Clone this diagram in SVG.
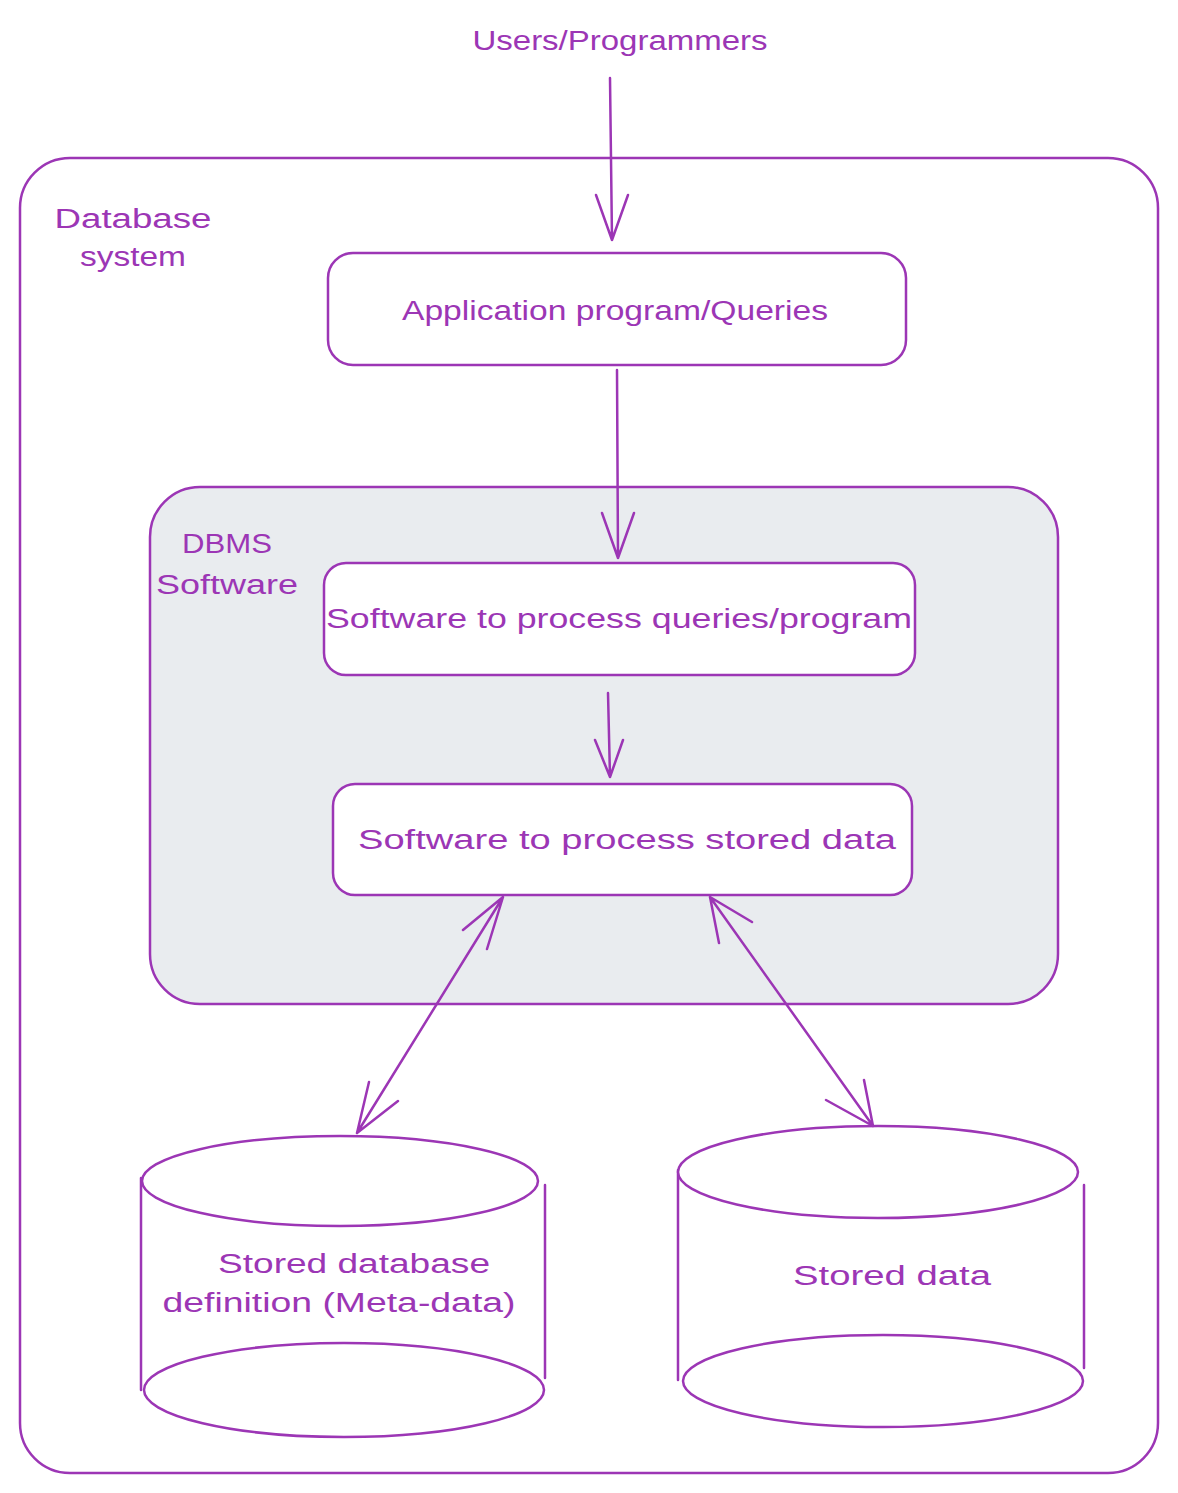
<svg xmlns="http://www.w3.org/2000/svg" width="1178" height="1493" viewBox="0 0 1178 1493">
<defs>
<style>
.s{fill:none;stroke:#9c36b5;stroke-width:2.5;stroke-linecap:round;stroke-linejoin:round}
.w{fill:#ffffff;stroke:#9c36b5;stroke-width:2.5}
.f{fill:#ffffff;stroke:none}
.g{fill:#e9ecef;stroke:#9c36b5;stroke-width:2.5}
.t{fill:#9c36b5;font-family:"Liberation Sans",Arial,sans-serif;font-size:27px;text-anchor:middle}
</style>
</defs>
<rect width="1178" height="1493" fill="#ffffff"/>
<g id="users">
<text class="t" x="620" y="50" textLength="295" lengthAdjust="spacingAndGlyphs">Users/Programmers</text>
</g>
<g id="database-system">
<rect class="w" x="20" y="158" width="1138" height="1315" rx="50"/>
<text class="t" x="133" y="228" textLength="157" lengthAdjust="spacingAndGlyphs">Database</text>
<text class="t" x="133" y="266" textLength="106" lengthAdjust="spacingAndGlyphs">system</text>
</g>
<g id="application">
<rect class="w" x="328" y="253" width="578" height="112" rx="25"/>
<text class="t" x="615" y="320" textLength="426" lengthAdjust="spacingAndGlyphs">Application program/Queries</text>
</g>
<g id="dbms">
<rect class="g" x="150" y="487" width="908" height="517" rx="50"/>
<text class="t" x="227" y="553" textLength="90" lengthAdjust="spacingAndGlyphs">DBMS</text>
<text class="t" x="227" y="594" textLength="142" lengthAdjust="spacingAndGlyphs">Software</text>
</g>
<g id="process-queries">
<rect class="w" x="324" y="563" width="591" height="112" rx="22"/>
<text class="t" x="619" y="628" textLength="586" lengthAdjust="spacingAndGlyphs">Software to process queries/program</text>
</g>
<g id="process-stored">
<rect class="w" x="333" y="784" width="579" height="111" rx="22"/>
<text class="t" x="627" y="849" textLength="538" lengthAdjust="spacingAndGlyphs">Software to process stored data</text>
</g>
<g id="meta-data">
<path class="f" d="M142,1181 L142,1390 A201,47 0 0 0 544,1390 L544,1181 Z"/>
<ellipse class="w" cx="344" cy="1390" rx="200" ry="47"/>
<path class="s" d="M141,1178 L141,1390 M545,1185 L545,1378"/>
<ellipse class="w" cx="340" cy="1181" rx="198" ry="45"/>
<text class="t" x="354" y="1273" textLength="272" lengthAdjust="spacingAndGlyphs">Stored database</text>
<text class="t" x="339" y="1312" textLength="353" lengthAdjust="spacingAndGlyphs">definition (Meta-data)</text>
</g>
<g id="stored-data">
<path class="f" d="M679,1172 L679,1381 A203,46 0 0 0 1084,1381 L1084,1172 Z"/>
<ellipse class="w" cx="883" cy="1381" rx="200" ry="46"/>
<path class="s" d="M678,1170 L678,1380 M1084,1185 L1084,1368"/>
<ellipse class="w" cx="878" cy="1172" rx="200" ry="46"/>
<text class="t" x="892" y="1285" textLength="198" lengthAdjust="spacingAndGlyphs">Stored data</text>
</g>
<g id="connectors">
<path class="s" d="M610,78 L612,240 M596,195 L612,240 L628,195"/>
<path class="s" d="M617,370 L618,558 M602,513 L618,558 L634,513"/>
<path class="s" d="M608,693 L610,777 M595,740 L610,777 L623,740"/>
<path class="s" d="M503,897 L357,1133 M463,930 L503,897 L487,949 M369,1082 L357,1133 L398,1101"/>
<path class="s" d="M710,897 L873,1126 M752,922 L710,897 L719,943 M826,1100 L873,1126 L864,1080"/>
</g>
</svg>
